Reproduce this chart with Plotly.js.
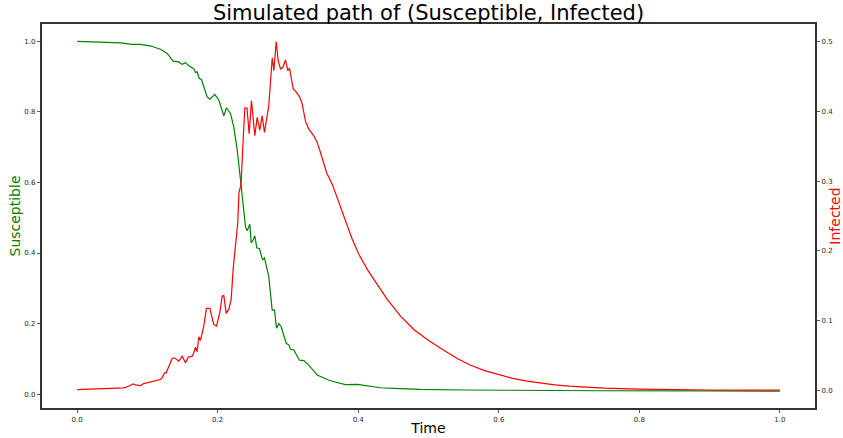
<!DOCTYPE html>
<html>
<head>
<meta charset="utf-8">
<script src="https://cdn.plot.ly/plotly-3.0.1.min.js"></script>
<style>
  html, body { margin: 0; padding: 0; background: #fff; }
  #chart { width: 843px; height: 438px; }
</style>
</head>
<body>
<div id="chart"></div>
<script>
// Time grid of the Susceptible path
const timeS = [0, 0.03, 0.0616, 0.0783, 0.0901, 0.105, 0.1186, 0.1281, 0.1367, 0.1446, 0.1495, 0.1542, 0.1589, 0.166, 0.1684, 0.1708, 0.1737, 0.1769, 0.185, 0.1888, 0.1959, 0.2016, 0.2087, 0.2125, 0.2182, 0.2229, 0.2278, 0.2325, 0.2363, 0.2386, 0.2396, 0.242, 0.2457, 0.2477, 0.2505, 0.2528, 0.2557, 0.2595, 0.2638, 0.2666, 0.2702, 0.2727, 0.2776, 0.2809, 0.2837, 0.287, 0.2904, 0.2975, 0.3015, 0.3036, 0.3083, 0.3164, 0.3226, 0.3297, 0.3416, 0.3502, 0.3577, 0.3653, 0.382, 0.3986, 0.4128, 0.4317, 0.4602, 0.4887, 0.55, 0.6, 0.745, 0.9, 1.0];
const susceptible = [1.0, 0.998, 0.996, 0.9915, 0.9915, 0.987, 0.978, 0.966, 0.944, 0.942, 0.935, 0.940, 0.931, 0.923, 0.912, 0.914, 0.895, 0.892, 0.843, 0.836, 0.850, 0.834, 0.789, 0.812, 0.796, 0.758, 0.692, 0.607, 0.531, 0.493, 0.474, 0.463, 0.482, 0.429, 0.437, 0.449, 0.415, 0.412, 0.381, 0.386, 0.352, 0.333, 0.238, 0.238, 0.187, 0.200, 0.191, 0.144, 0.139, 0.127, 0.125, 0.096, 0.095, 0.082, 0.054, 0.046, 0.040, 0.035, 0.027, 0.0275, 0.0227, 0.0179, 0.0156, 0.0133, 0.0115, 0.0105, 0.0094, 0.0088, 0.0085];

// Time grid of the Infected path
const timeI = [0, 0.0285, 0.052, 0.0664, 0.0735, 0.0797, 0.083, 0.0901, 0.0948, 0.1043, 0.1115, 0.1186, 0.121, 0.1243, 0.1267, 0.1304, 0.1352, 0.1385, 0.1424, 0.1446, 0.1495, 0.1542, 0.158, 0.1637, 0.166, 0.1684, 0.1708, 0.1731, 0.1755, 0.1802, 0.184, 0.1888, 0.1944, 0.1983, 0.203, 0.2064, 0.2087, 0.2121, 0.2158, 0.2192, 0.222, 0.2253, 0.2286, 0.2303, 0.2332, 0.2363, 0.2386, 0.2417, 0.2448, 0.2481, 0.2528, 0.2562, 0.2599, 0.2633, 0.2666, 0.2727, 0.2776, 0.2799, 0.2833, 0.2861, 0.2894, 0.2927, 0.2965, 0.2998, 0.3022, 0.3075, 0.3122, 0.3169, 0.3203, 0.325, 0.3297, 0.3368, 0.3416, 0.3463, 0.3549, 0.363, 0.3748, 0.3795, 0.3915, 0.4009, 0.4128, 0.427, 0.4413, 0.4602, 0.4791, 0.4982, 0.5172, 0.5409, 0.56, 0.58, 0.60, 0.62, 0.64, 0.66, 0.68, 0.70, 0.75, 0.80, 0.85, 0.90, 1.0];
const infected = [0.0014, 0.0024, 0.0029, 0.0039, 0.0062, 0.0096, 0.0082, 0.0072, 0.010, 0.0119, 0.0134, 0.0158, 0.0182, 0.0254, 0.0254, 0.0349, 0.0459, 0.0469, 0.0435, 0.042, 0.0492, 0.0397, 0.0478, 0.0492, 0.0541, 0.0621, 0.0555, 0.077, 0.0717, 0.0923, 0.1176, 0.1176, 0.0947, 0.0923, 0.1115, 0.1353, 0.1363, 0.1105, 0.1162, 0.1306, 0.1736, 0.2119, 0.2406, 0.2836, 0.2948, 0.360, 0.4046, 0.4046, 0.368, 0.4151, 0.3649, 0.3913, 0.373, 0.3935, 0.3697, 0.4079, 0.4763, 0.4581, 0.5, 0.4724, 0.4605, 0.463, 0.4735, 0.4581, 0.462, 0.4319, 0.4271, 0.420, 0.4103, 0.3855, 0.3745, 0.3649, 0.3554, 0.341, 0.3123, 0.2956, 0.2621, 0.2501, 0.2166, 0.1951, 0.1736, 0.1521, 0.1306, 0.1066, 0.0875, 0.0732, 0.0605, 0.0460, 0.0362, 0.0285, 0.0225, 0.0175, 0.0135, 0.0105, 0.0082, 0.0063, 0.0036, 0.0021, 0.0012, 0.0008, 0.0005];

// Tick labels
const xTicks = [0, 0.2, 0.4, 0.6, 0.8, 1.0];
const xTickText = ['0.0', '0.2', '0.4', '0.6', '0.8', '1.0'];
const yTicks = [0, 0.2, 0.4, 0.6, 0.8, 1.0];
const yTickText = ['0.0', '0.2', '0.4', '0.6', '0.8', '1.0'];
const y2Ticks = [0, 0.1, 0.2, 0.3, 0.4, 0.5];
const y2TickText = ['0.0', '0.1', '0.2', '0.3', '0.4', '0.5'];

const FONT = 'DejaVu Sans, Liberation Sans, sans-serif';
const tickFont = { family: FONT, size: 7, color: '#262626' };
const spine = '#333333';

const traces = [
  { x: timeS, y: susceptible, type: 'scatter', mode: 'lines', name: 'Susceptible',
    line: { color: '#008000', width: 1.2 }, yaxis: 'y' },
  { x: timeI, y: infected, type: 'scatter', mode: 'lines', name: 'Infected',
    line: { color: '#ff0000', width: 1.2 }, yaxis: 'y2' }
];

const layout = {
  width: 843, height: 438,
  margin: { l: 42, r: 28, t: 24, b: 30, pad: 0 },
  paper_bgcolor: '#ffffff', plot_bgcolor: '#ffffff',
  showlegend: false,
  font: { family: FONT, color: '#000' },
  title: { text: 'Simulated path of (Susceptible, Infected)', font: { family: FONT, size: 21, color: '#000' },
           x: 0.5, xref: 'paper', xanchor: 'center', y: 0.97, yref: 'container', yanchor: 'middle' },
  xaxis: {
    range: [-0.05, 1.05], tickvals: xTicks, ticktext: xTickText,
    ticks: 'outside', ticklen: 3.5, tickwidth: 0.8, tickcolor: spine, tickfont: tickFont,
    showline: true, linecolor: spine, linewidth: 1.6, mirror: true,
    showgrid: false, zeroline: false, automargin: false,
    title: { text: 'Time', font: { family: FONT, size: 14, color: '#000' }, standoff: 0 }
  },
  yaxis: {
    range: [-0.0395, 1.0495], tickvals: yTicks, ticktext: yTickText,
    ticks: 'outside', ticklen: 3.5, tickwidth: 0.8, tickcolor: spine, tickfont: tickFont,
    showline: true, linecolor: spine, linewidth: 1.6, mirror: true,
    showgrid: false, zeroline: false, automargin: false,
    title: { text: 'Susceptible', font: { family: FONT, size: 14, color: '#008000' }, standoff: 0 }
  },
  yaxis2: {
    overlaying: 'y', side: 'right',
    range: [-0.025, 0.525], tickvals: y2Ticks, ticktext: y2TickText,
    ticks: 'outside', ticklen: 3.5, tickwidth: 0.8, tickcolor: spine, tickfont: tickFont,
    showline: true, linecolor: spine, linewidth: 1.6,
    showgrid: false, zeroline: false, automargin: false,
    title: { text: 'Infected', font: { family: FONT, size: 14, color: '#ff0000' }, standoff: 6 }
  }
};

Plotly.newPlot('chart', traces, layout, { displayModeBar: false, staticPlot: true });
</script>
</body>
</html>
